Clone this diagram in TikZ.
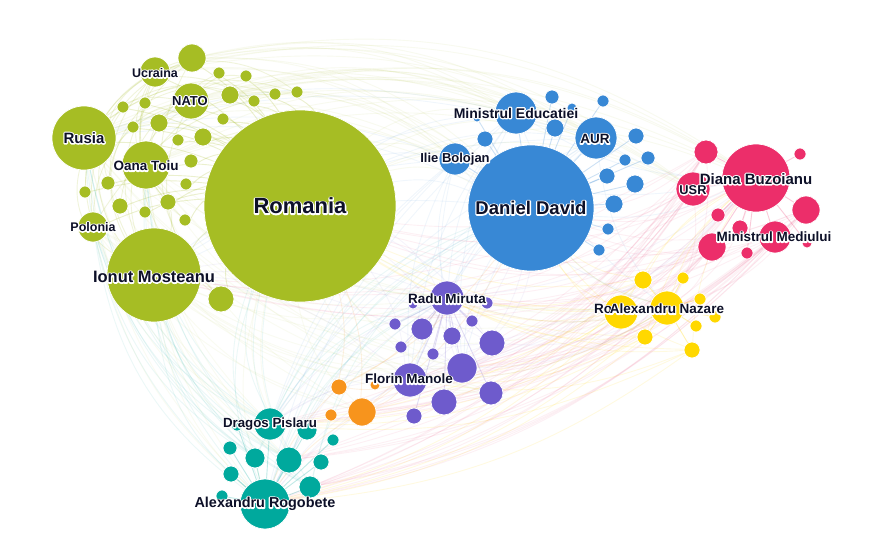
\documentclass[tikz,border=0pt]{standalone}
\usepackage{fontspec}
\setmainfont{Liberation Sans}
\newcommand\halo[1]{\makebox[0pt][l]{\special{pdf:code q 1 Tr 2.6 w 1 j 1 1 1 RG}#1\special{pdf:code Q}}#1}
\pgfdeclarelayer{background}
\pgfsetlayers{background,main}
\definecolor{grn}{HTML}{A6BD24}
\definecolor{blu}{HTML}{3888D5}
\definecolor{rd}{HTML}{EC2E6A}
\definecolor{ylw}{HTML}{FFD800}
\definecolor{pur}{HTML}{6E5BCC}
\definecolor{org}{HTML}{F7941D}
\definecolor{tea}{HTML}{00A99D}
\definecolor{labc}{HTML}{0D1028}
\begin{document}
\begin{tikzpicture}[x=1pt,y=-1pt,
  bubble/.style={circle,fill=#1,draw=white,line width=0.7pt,inner sep=0pt},
  lnk/.style 2 args={draw=#1,draw opacity=#2,line width=0.9pt},
  lbl/.style={text=labc,inner sep=0pt,font=\bfseries\fontsize{13.5}{14}\selectfont}]
\useasboundingbox (0,0) rectangle (883,557);

% ---------- green ----------
\foreach \n/\x/\y/\r in {romania/300/206/96, ionut/154/275/47, rusia/84/138/32, oana/146/165/24,
  polonia/93/227/15, ucraina/155/72/15, nato/191/101/18, g1/192/58/14, g2/219/73/6, g3/246/76/6,
  g4/230/95/9, g5/254/101/6, g6/275/94/6, g7/297/92/6, g8/223/119/6, g9/145/103/6, g10/123/107/6,
  g11/133/127/6, g12/159/123/9, g13/178/140/6, g14/203/137/9, g15/191/161/7, g16/186/184/6,
  g17/168/202/8, g18/145/212/6, g19/185/220/6, g20/120/206/8, g21/108/183/7, g22/85/192/6, g23/221/299/13}
  \node[bubble=grn,minimum size=2*\r] (\n) at (\x,\y) {};
% ---------- blue ----------
\foreach \n/\x/\y/\r in {daniel/531/208/63, minedu/516/113/21, aur/596/138/21, ilie/455/159/16,
  b1/552/97/7, b2/572/108/5, b3/603/101/6, b4/555/128/9, b5/485/139/8, b6/636/136/8, b7/625/160/6,
  b8/648/158/7, b9/607/176/8, b10/635/184/9, b11/614/204/9, b12/608/229/6, b13/599/250/6, b14/477/118/4}
  \node[bubble=blu,minimum size=2*\r] (\n) at (\x,\y) {};
% ---------- red ----------
\foreach \n/\x/\y/\r in {diana/756/178/34, usr/693/189/17, minmed/775/237/16, r1/706/152/12,
  r2/800/154/6, r3/806/210/14, r4/718/215/7, r5/740/228/8, r6/712/247/14, r7/747/253/6, r8/807/243/5}
  \node[bubble=rd,minimum size=2*\r] (\n) at (\x,\y) {};
% ---------- yellow ----------
\foreach \n/\x/\y/\r in {nazare/667/308/17, y0/621/312/17, y1/643/280/9, y2/683/278/6, y3/700/299/6,
  y4/715/317/6, y5/696/326/6, y6/645/337/8, y7/692/350/8}
  \node[bubble=ylw,minimum size=2*\r] (\n) at (\x,\y) {};
% ---------- purple ----------
\foreach \n/\x/\y/\r in {radu/447/298/17, florin/410/380/17, p1/487/303/6, p2/395/324/6, p3/422/329/11,
  p4/472/321/6, p5/452/336/9, p6/492/343/13, p7/401/347/6, p8/433/354/6, p9/462/368/15,
  p10/444/402/13, p11/491/393/12, p12/414/416/8, p13/413/304/5}
  \node[bubble=pur,minimum size=2*\r] (\n) at (\x,\y) {};
% ---------- orange ----------
\foreach \n/\x/\y/\r in {o1/339/387/8, o2/331/415/6, o3/362/412/14, o4/375/385/5}
  \node[bubble=org,minimum size=2*\r] (\n) at (\x,\y) {};
% ---------- teal ----------
\foreach \n/\x/\y/\r in {dragos/270/424/16, rogobete/265/504/25, t1/307/430/10, t2/237/425/6,
  t3/230/448/7, t4/333/440/6, t5/255/458/10, t6/289/460/13, t7/321/462/8, t8/231/474/8,
  t9/310/487/11, t10/222/496/6}
  \node[bubble=tea,minimum size=2*\r] (\n) at (\x,\y) {};

% ---------- connectors ----------
\begin{pgfonlayer}{background}
\fill[white] (0,0) rectangle (883,557);
% green internal
\foreach \n in {ionut,rusia,oana,polonia,ucraina,nato,g1,g2,g3,g4,g5,g6,g7,g8,g9,g10,g11,g12,g13,g14,g15,g16,g17,g18,g19,g20,g21,g22,g23}
  \draw[lnk={grn}{.22}] (romania) to[bend right=10] (\n);
\foreach \a/\b in {ionut/ucraina, ionut/g1, ionut/nato, polonia/ucraina, polonia/g1, ionut/rusia,
  g23/g1, g23/ucraina, ionut/g9, oana/g1, g21/nato, g17/ucraina, polonia/nato, g18/g2, g20/g3,
  ionut/g10, g23/nato, g19/ucraina, g22/g1, g21/ucraina}
  \draw[lnk={grn}{.16}] (\a) to[bend left=35] (\b);
\foreach \a/\b in {rusia/g7, rusia/g6, ucraina/g7, g9/g5, oana/g6, polonia/g7, rusia/romania,
  ucraina/romania, nato/g3, g10/g4, rusia/nato, oana/nato, oana/ionut}
  \draw[lnk={grn}{.16}] (\a) to[bend left=25] (\b);
% green to blue / red
\foreach \a in {romania,nato,ucraina,g1,oana,rusia,g4}
  \foreach \b in {daniel,minedu,aur,diana,ilie,usr}
    \draw[lnk={grn}{.07}] (\a) to[bend left=22] (\b);
% green to lower clusters
\foreach \a in {romania,ionut,oana,rusia,polonia}
  \foreach \b in {radu,florin,dragos,rogobete,p9,o3,t6,nazare,p11}
    \draw[lnk={grn}{.06}] (\a) to[bend right=18] (\b);
% red
\foreach \n in {usr,minmed,r1,r2,r3,r4,r5,r6,r7,r8}
  \draw[lnk={rd}{.25}] (diana) -- (\n);
\foreach \a in {diana,usr,minmed,r1,r6,r3}
  \foreach \b in {rogobete,dragos,florin,radu,p9,o3,t6,daniel,romania,nazare,ionut,t9}
    \draw[lnk={rd}{.07}] (\a) to[bend left=18] (\b);
% blue
\foreach \n in {minedu,aur,ilie,b1,b2,b3,b4,b5,b6,b7,b8,b9,b10,b11,b12,b13,b14}
  \draw[lnk={blu}{.25}] (daniel) -- (\n);
\foreach \a in {daniel,aur,minedu,ilie}
  \foreach \b in {romania,ionut,rusia,rogobete,dragos,florin,radu,nazare,diana,p9}
    \draw[lnk={blu}{.07}] (\a) to[bend right=15] (\b);
% teal
\foreach \n in {dragos,t1,t2,t3,t4,t5,t6,t7,t8,t9,t10}
  \draw[lnk={tea}{.25}] (rogobete) -- (\n);
\foreach \a in {rogobete,dragos,t6,t9,t5}
  \foreach \b in {ionut,romania,rusia,polonia,oana,daniel,radu}
    \draw[lnk={tea}{.08}] (\a) to[bend left=22] (\b);
% yellow
\foreach \n in {y0,y1,y2,y3,y4,y5,y6,y7}
  \draw[lnk={ylw}{.3}] (nazare) -- (\n);
\foreach \a in {nazare,y0,y1,y7,y6}
  \foreach \b in {daniel,diana,radu,florin,rogobete,romania,dragos}
    \draw[lnk={ylw}{.12}] (\a) to[bend left=15] (\b);
% purple
\foreach \n in {florin,p1,p2,p3,p4,p5,p6,p7,p8,p9,p10,p11,p12,p13}
  \draw[lnk={pur}{.2}] (radu) -- (\n);
\foreach \a in {radu,florin,p9,p6}
  \foreach \b in {romania,daniel,rogobete,dragos,ionut,diana,nazare}
    \draw[lnk={pur}{.06}] (\a) to[bend right=15] (\b);
% orange
\foreach \a in {o1,o3}
  \foreach \b in {romania,daniel,rogobete,radu,florin}
    \draw[lnk={org}{.12}] (\a) to[bend right=12] (\b);
\end{pgfonlayer}

% ---------- labels ----------
\node[lbl,font=\bfseries\fontsize{22}{24}\selectfont] (lromania) at (romania) {\halo{Romania}};
\node[lbl,font=\bfseries\fontsize{18.5}{20}\selectfont] (ldaniel) at (daniel) {\halo{Daniel David}};
\node[lbl,font=\bfseries\fontsize{16.5}{18}\selectfont] (lionut) at (154,277) {\halo{Ionut Mosteanu}};
\node[lbl,font=\bfseries\fontsize{15}{16}\selectfont] (lrusia) at (84,138) {\halo{Rusia}};
\node[lbl] (loana) at (146,166) {\halo{Oana Toiu}};
\node[lbl,font=\bfseries\fontsize{13}{14}\selectfont] (lnato) at (190,101) {\halo{NATO}};
\node[lbl,font=\bfseries\fontsize{12.5}{14}\selectfont] (lucraina) at (155,73) {\halo{Ucraina}};
\node[lbl,font=\bfseries\fontsize{12.5}{14}\selectfont] (lpolonia) at (93,227) {\halo{Polonia}};
\node[lbl,font=\bfseries\fontsize{14}{15}\selectfont] (lminedu) at (516,113) {\halo{Ministrul Educatiei}};
\node[lbl] (laur) at (595,139) {\halo{AUR}};
\node[lbl,font=\bfseries\fontsize{13}{14}\selectfont] (lilie) at (455,159) {\halo{Ilie Bolojan}};
\node[lbl,font=\bfseries\fontsize{15}{16}\selectfont] (ldiana) at (756,179) {\halo{Diana Buzoianu}};
\node[lbl,font=\bfseries\fontsize{12.8}{14}\selectfont] (lusr) at (693,190) {\halo{USR}};
\node[lbl] (lminmed) at (774,237) {\halo{Ministrul Mediului}};
\node[lbl] (lradu) at (447,299) {\halo{Radu Miruta}};
\node[lbl] (lflorin) at (409,379) {\halo{Florin Manole}};
\node[lbl,font=\bfseries\fontsize{13.3}{14}\selectfont] (ldragos) at (270,424) {\halo{Dragos Pislaru}};
\node[lbl,font=\bfseries\fontsize{14.4}{15}\selectfont] (lrogobete) at (265,504) {\halo{Alexandru Rogobete}};
\node[lbl,anchor=west] (lro) at (594,309) {\halo{Ro}};
\node[lbl] (lnazare) at (667,309) {\halo{Alexandru Nazare}};
\end{tikzpicture}
\end{document}
